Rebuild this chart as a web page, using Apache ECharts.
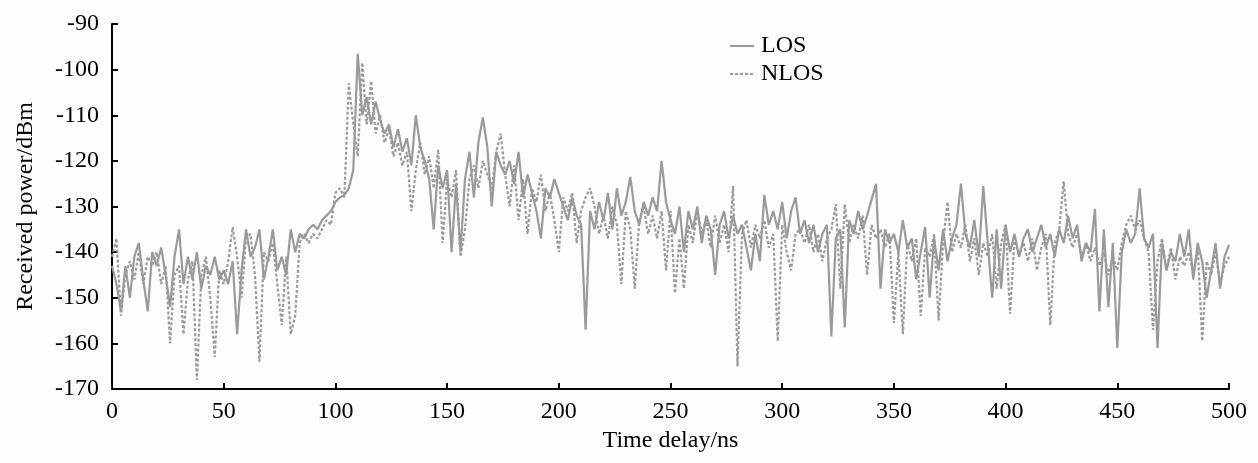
<!DOCTYPE html>
<html>
<head>
<meta charset="utf-8">
<script src="https://cdn.jsdelivr.net/npm/echarts@6/dist/echarts.min.js"></script>
<style>
html,body{margin:0;padding:0;background:#fdfdfd;}
#chart{width:1258px;height:463px;}
</style>
</head>
<body>
<div id="chart"></div>
<script>
// Sampling grid of the time delay axis (ns), one sample every 2 ns
const delayStart = 0, delayEnd = 500, delayStep = 2;
const delays = [];
for (let t = delayStart; t <= delayEnd; t += delayStep) delays.push(t);

// Received power (dBm), LOS at 0,2,4,...,500 ns
const losPower = [
-143,-147,-153,-143,-150, -141,-138,-146,-153,-140,
-143,-139,-145,-152,-141, -135,-147,-141,-146,-140,
-148,-143,-145,-141,-146, -144,-147,-142,-158,-144,
-135,-141,-139,-135,-146, -141,-135,-144,-141,-145,
-135,-140,-136,-137,-135, -134,-135,-133,-132,-131,
-129,-128,-127.5,-126,-122, -96.5,-110,-106,-112,-107,
-111,-114,-112,-117,-113, -118,-115,-121,-110,-117,
-120,-124,-135,-121,-126, -122,-140,-125,-140,-124,
-118,-128,-116,-110.5,-117, -130,-118,-121,-123,-120,
-125,-118,-128,-123,-127, -131,-137,-126,-128,-124,
-127,-130,-133,-128,-132, -134,-157,-131,-135,-129,
-133,-127,-135,-126,-132, -129,-123.5,-131,-134,-129,
-132,-128,-131,-120,-129, -133,-136,-130,-140,-131,
-135,-130,-138,-132,-135, -145,-134,-131,-137,-132,
-136,-134,-139,-144,-136, -142,-127.5,-134,-131,-135,
-129,-137,-131,-128,-136, -133,-138,-134,-140,-136,
-134,-158.5,-137,-135,-156.5, -133,-136,-131,-135,-132,
-128.5,-125,-148,-135,-138, -136,-140,-133,-139,-137,
-146,-140,-134.5,-150,-137, -144,-135,-142,-137,-134,
-125,-136,-139,-133,-141, -125.5,-138,-150,-135,-148,
-134,-140,-136,-141,-137, -135,-140,-137,-134,-139,
-136,-141,-135,-138,-132, -137,-134,-142,-138,-140,
-130.5,-153,-135,-152,-138, -161,-140,-135,-138,-136,
-126,-137,-139,-136,-161, -138,-144,-140,-142,-136,
-141,-135,-146,-138,-142, -150,-144,-138,-148,-141,
-138.4
];

// Received power (dBm), NLOS at 0,2,4,...,500 ns
const nlosPower = [
-141,-137,-154,-145,-142, -146,-140,-147,-141,-143,
-140,-147,-143,-160,-145, -143,-158,-146,-142,-168,
-145,-141,-150,-163,-144, -147,-142,-134.5,-141,-150,
-137,-136,-145,-164,-140, -142,-138,-147,-156,-141,
-158,-154,-138,-136,-138, -136,-137,-135,-133,-134,
-127,-126,-128,-103,-112, -119,-98.5,-112,-102.5,-114,
-110,-116,-113,-119,-116, -121,-118,-131,-122,-116,
-123,-119,-126,-117.5,-138, -124,-128,-122,-141,-135,
-124,-121,-126,-120,-123, -126,-118,-114,-123,-130,
-121,-133,-124,-136,-126, -129,-123,-131,-127,-133,
-140,-128,-131,-127,-138, -131,-128,-126,-130,-136,
-132,-137,-130,-134,-147, -131,-135,-148,-133,-130,
-136,-132,-137,-131,-144, -131,-149,-137,-148,-134,
-138,-131,-136,-133,-139, -132,-138,-134,-140,-125.5,
-165,-136,-133,-139,-134, -137,-133,-139,-136,-159.5,
-134,-140,-144,-136,-135, -138,-134,-140,-136,-142,
-137,-135,-129.5,-148,-129.5, -138,-134,-137,-132,-145,
-134,-137,-135,-139,-136, -155.5,-140,-158,-138,-142,
-137,-154,-139,-141,-136, -155,-138,-129,-140,-136,
-139,-134,-142,-137,-145, -138,-141,-136,-148,-138,
-134,-153.5,-137,-141,-138, -142,-137,-144,-139,-136,
-156,-138,-135,-124.5,-136, -139,-136,-141,-138,-142,
-139,-143,-140,-145,-141, -144,-138,-134,-132,-135,
-133,-137,-140,-157,-142, -137,-144,-139,-146,-141,
-143,-140,-145,-139,-159.5, -142,-145,-140,-147,-143,
-141
];

const seriesNames = ['LOS', 'NLOS'];
const xTicks = {min: 0, max: 500, interval: 50};
const yTicks = {min: -170, max: -90, interval: 10};

const losData = delays.map((t, i) => [t, losPower[i]]);
const nlosData = delays.map((t, i) => [t, nlosPower[i]]);

const FONT = 'Liberation Serif';
const GRAY = '#9a9a9a';

const chart = echarts.init(document.getElementById('chart'), null, {renderer: 'canvas'});
chart.setOption({
  animation: false,
  backgroundColor: '#fdfdfd',
  textStyle: {fontFamily: FONT, color: '#000'},
  grid: {left: 112, right: 29, top: 24, bottom: 74, containLabel: false},
  legend: {
    orient: 'vertical',
    left: 724,
    top: 29,
    itemWidth: 24,
    itemHeight: 14,
    itemGap: 4,
    itemStyle: {opacity: 0},
    textStyle: {fontFamily: FONT, fontSize: 24, color: '#000', padding: [0, 0, 0, 2]},
    data: seriesNames
  },
  xAxis: {
    type: 'value',
    min: xTicks.min, max: xTicks.max, interval: xTicks.interval,
    name: 'Time delay/ns',
    nameLocation: 'middle',
    nameGap: 40,
    nameTextStyle: {fontFamily: FONT, fontSize: 24, color: '#000'},
    axisLine: {show: true, lineStyle: {color: '#000', width: 2}},
    axisTick: {show: true, inside: true, length: 6, lineStyle: {color: '#000', width: 2}},
    axisLabel: {fontFamily: FONT, fontSize: 24, color: '#000', margin: 11},
    splitLine: {show: false}
  },
  yAxis: {
    type: 'value',
    min: yTicks.min, max: yTicks.max, interval: yTicks.interval,
    name: 'Received power/dBm',
    nameLocation: 'middle',
    nameGap: 74,
    nameTextStyle: {fontFamily: FONT, fontSize: 24, color: '#000'},
    axisLine: {show: true, lineStyle: {color: '#000', width: 2}},
    axisTick: {show: true, inside: true, length: 6, lineStyle: {color: '#000', width: 2}},
    axisLabel: {fontFamily: FONT, fontSize: 24, color: '#000', margin: 13},
    splitLine: {show: false}
  },
  series: [
    {
      name: seriesNames[0],
      type: 'line',
      data: losData,
      showSymbol: false,
      symbol: 'none',
      z: 3,
      lineStyle: {color: GRAY, width: 2.2, type: 'solid'},
      itemStyle: {color: GRAY}
    },
    {
      name: seriesNames[1],
      type: 'line',
      data: nlosData,
      showSymbol: false,
      symbol: 'none',
      z: 2,
      lineStyle: {color: GRAY, width: 2.2, type: [3, 2]},
      itemStyle: {color: GRAY}
    }
  ]
});
</script>
</body>
</html>
